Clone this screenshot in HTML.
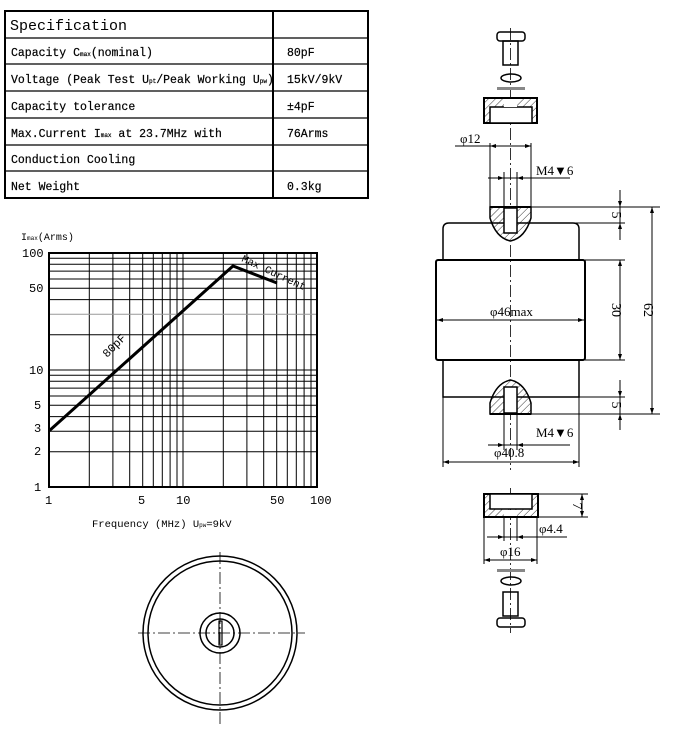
<!DOCTYPE html>
<html><head><meta charset="utf-8"><style>
html,body{margin:0;padding:0;background:#fff;}
svg{display:block;}
text{font-family:"Liberation Mono","Noto Sans CJK SC",monospace;fill:#000;}
.s{font-family:"Liberation Serif","Noto Serif CJK SC",serif;}
</style></head><body>
<svg width="695" height="733" viewBox="0 0 695 733" xmlns="http://www.w3.org/2000/svg">
<defs>
<pattern id="h" width="5" height="5" patternUnits="userSpaceOnUse" patternTransform="rotate(45)">
<line x1="0" y1="0" x2="0" y2="5" stroke="#000" stroke-width="0.8"/>
</pattern>
</defs>
<g stroke="#000" fill="none">
<rect x="5" y="11" width="363" height="187" stroke-width="2"/>
<line x1="273" y1="11" x2="273" y2="198" stroke-width="2"/>
<g stroke-width="1.3">
<line x1="5" y1="38" x2="368" y2="38"/>
<line x1="5" y1="64" x2="368" y2="64"/>
<line x1="5" y1="91" x2="368" y2="91"/>
<line x1="5" y1="118" x2="368" y2="118"/>
<line x1="5" y1="145" x2="368" y2="145"/>
<line x1="5" y1="171" x2="368" y2="171"/>
</g>
</g>
<text x="10" y="30" font-size="15">Specification</text>
<g font-size="11.5" stroke="#000" stroke-width="0.2">
<text x="11" y="56">Capacity C<tspan font-size="6">max</tspan>(nominal)</text>
<text x="11" y="83">Voltage (Peak Test U<tspan font-size="6">pt</tspan>/Peak Working U<tspan font-size="6">pw</tspan>)</text>
<text x="11" y="110">Capacity tolerance</text>
<text x="11" y="137">Max.Current I<tspan font-size="6">max</tspan> at 23.7MHz with</text>
<text x="11" y="163">Conduction Cooling</text>
<text x="11" y="190">Net Weight</text>
<text x="287" y="56">80pF</text>
<text x="287" y="83">15kV/9kV</text>
<text x="287" y="110">±4pF</text>
<text x="287" y="137">76Arms</text>
<text x="287" y="190">0.3kg</text>
</g>
<g stroke="#000" stroke-width="1" fill="none">
<line x1="89.3" y1="253" x2="89.3" y2="487"/><line x1="112.9" y1="253" x2="112.9" y2="487"/>
<line x1="129.7" y1="253" x2="129.7" y2="487"/><line x1="142.7" y1="253" x2="142.7" y2="487"/>
<line x1="153.3" y1="253" x2="153.3" y2="487"/><line x1="162.3" y1="253" x2="162.3" y2="487"/>
<line x1="170.1" y1="253" x2="170.1" y2="487"/><line x1="177" y1="253" x2="177" y2="487"/>
<line x1="183" y1="253" x2="183" y2="487"/>
<line x1="223.3" y1="253" x2="223.3" y2="487"/><line x1="246.9" y1="253" x2="246.9" y2="487"/>
<line x1="263.7" y1="253" x2="263.7" y2="487"/><line x1="276.7" y1="253" x2="276.7" y2="487"/>
<line x1="287.3" y1="253" x2="287.3" y2="487"/><line x1="296.3" y1="253" x2="296.3" y2="487"/>
<line x1="304.1" y1="253" x2="304.1" y2="487"/><line x1="311" y1="253" x2="311" y2="487"/>
<line x1="49" y1="451.8" x2="317" y2="451.8"/><line x1="49" y1="431.2" x2="317" y2="431.2"/>
<line x1="49" y1="416.6" x2="317" y2="416.6"/><line x1="49" y1="405.2" x2="317" y2="405.2"/>
<line x1="49" y1="396" x2="317" y2="396"/><line x1="49" y1="388.1" x2="317" y2="388.1"/>
<line x1="49" y1="381.3" x2="317" y2="381.3"/><line x1="49" y1="375.3" x2="317" y2="375.3"/>
<line x1="49" y1="370" x2="317" y2="370"/>
<line x1="49" y1="334.8" x2="317" y2="334.8"/><line x1="49" y1="314.2" x2="317" y2="314.2" stroke="#999"/>
<line x1="49" y1="299.6" x2="317" y2="299.6"/><line x1="49" y1="288.2" x2="317" y2="288.2"/>
<line x1="49" y1="279" x2="317" y2="279"/><line x1="49" y1="271.1" x2="317" y2="271.1"/>
<line x1="49" y1="264.3" x2="317" y2="264.3"/><line x1="49" y1="258.3" x2="317" y2="258.3"/>
<rect x="49" y="253" width="268" height="234" stroke-width="2"/>
<polyline points="49,431 233,266 277,283" stroke-width="3"/>
</g>
<g font-size="12" font-family="Liberation Sans">
<text x="21" y="240" font-size="10">I<tspan font-size="6">max</tspan>(Arms)</text>
<text x="22" y="257">100</text><text x="29" y="292">50</text>
<text x="29" y="374">10</text><text x="34" y="409">5</text>
<text x="34" y="432">3</text><text x="34" y="455">2</text>
<text x="34" y="491">1</text>
<text x="45" y="504">1</text><text x="138" y="504">5</text><text x="176" y="504">10</text>
<text x="270" y="504">50</text><text x="310" y="504">100</text>
<text x="92" y="527" font-family="Liberation Mono" font-size="10.5">Frequency (MHz) U<tspan font-size="6">pw</tspan>=9kV</text>
<text transform="translate(107,358) rotate(-45)" font-size="11.5">80pF</text>
<text transform="translate(241,261) rotate(25)" font-size="10.5">Max Current</text>
</g>
<g stroke="#000" fill="none" stroke-width="1.5">
<circle cx="220" cy="633" r="77"/><circle cx="220" cy="633" r="72"/>
<circle cx="220" cy="633" r="20"/><circle cx="220" cy="633" r="14"/>
<rect x="219" y="621" width="3" height="24" stroke-width="1.2"/>
<g stroke-width="0.8" stroke-dasharray="12,3,2,3">
<line x1="220" y1="552" x2="220" y2="724"/><line x1="138" y1="633" x2="305" y2="633"/>
</g>
</g>
<g stroke="#000" fill="none" stroke-width="1">
<line x1="510.5" y1="28" x2="510.5" y2="470" stroke-width="0.8" stroke-dasharray="12,3,2,3"/>
<line x1="510.5" y1="488" x2="510.5" y2="633" stroke-width="0.8" stroke-dasharray="12,3,2,3"/>
<rect x="497" y="32" width="28" height="9" rx="3" stroke-width="1.5"/>
<rect x="503" y="41" width="15" height="24" stroke-width="1.5"/>
<ellipse cx="511" cy="78" rx="10" ry="4" stroke-width="1.5"/>
<rect x="497" y="87" width="28" height="3" fill="#888" stroke="none"/>
<rect x="484" y="98" width="53" height="25" fill="url(#h)" stroke-width="2"/>
<rect x="490" y="107" width="42" height="16" fill="#fff" stroke-width="1.5"/>
<rect x="504" y="99" width="13" height="8" fill="#fff" stroke="none"/>
<line x1="490" y1="143" x2="490" y2="207"/><line x1="531" y1="143" x2="531" y2="207"/>
<line x1="455" y1="146" x2="531" y2="146"/>
<line x1="504" y1="172" x2="504" y2="207"/><line x1="517" y1="172" x2="517" y2="207"/>
<line x1="488" y1="178" x2="570" y2="178"/>
<path d="M443,397 L443,229 Q443,223 449,223 L573,223 Q579,223 579,229 L579,397 Z" stroke-width="1.5" fill="#fff"/>
<rect x="436" y="260" width="149" height="100" rx="2" stroke-width="2" fill="#fff"/>
<line x1="510.5" y1="245" x2="510.5" y2="378" stroke-width="0.8" stroke-dasharray="12,3,2,3"/>
<path d="M490,207 L531,207 L531,218 Q525,238 510.5,241 Q496,238 490,218 Z" fill="url(#h)" stroke-width="1.5"/>
<rect x="504" y="208" width="13" height="25" fill="#fff" stroke-width="1.5"/>
<line x1="490" y1="207" x2="531" y2="207" stroke-width="2"/>
<path d="M490,414 L531,414 L531,403 Q525,383 510.5,380 Q496,383 490,403 Z" fill="url(#h)" stroke-width="1.5"/>
<rect x="504" y="387" width="13" height="26" fill="#fff" stroke-width="1.5"/>
<line x1="490" y1="414" x2="531" y2="414" stroke-width="2"/>
<line x1="531" y1="207" x2="660" y2="207"/><line x1="531" y1="414" x2="660" y2="414"/>
<line x1="555" y1="223" x2="625" y2="223"/><line x1="531" y1="397" x2="625" y2="397"/>
<line x1="585" y1="260" x2="625" y2="260"/><line x1="585" y1="360" x2="625" y2="360"/>
<line x1="620" y1="190" x2="620" y2="240"/><line x1="620" y1="260" x2="620" y2="360"/>
<line x1="620" y1="380" x2="620" y2="430"/>
<line x1="652" y1="207" x2="652" y2="414"/>
<line x1="437" y1="320" x2="584" y2="320"/>
<line x1="504" y1="414" x2="504" y2="450"/><line x1="517" y1="414" x2="517" y2="450"/>
<line x1="488" y1="445" x2="570" y2="445"/>
<line x1="443" y1="397" x2="443" y2="467"/><line x1="579" y1="397" x2="579" y2="467"/>
<line x1="443" y1="462" x2="579" y2="462"/>
<rect x="484" y="494" width="54" height="23" fill="url(#h)" stroke-width="2"/>
<rect x="490" y="494" width="42" height="15" fill="#fff" stroke-width="1.5"/>
<rect x="504" y="510" width="13" height="6" fill="#fff" stroke="none"/>
<line x1="538" y1="494" x2="588" y2="494"/><line x1="538" y1="517" x2="588" y2="517"/>
<line x1="582" y1="494" x2="582" y2="517"/>
<line x1="504" y1="517" x2="504" y2="541"/><line x1="517" y1="517" x2="517" y2="541"/>
<line x1="487" y1="537" x2="567" y2="537"/>
<line x1="484" y1="517" x2="484" y2="564"/><line x1="537" y1="517" x2="537" y2="564"/>
<line x1="484" y1="560" x2="537" y2="560"/>
<rect x="497" y="569" width="28" height="3" fill="#888" stroke="none"/>
<ellipse cx="511" cy="581" rx="10" ry="4" stroke-width="1.5"/>
<rect x="503" y="592" width="15" height="24" stroke-width="1.5"/>
<rect x="497" y="618" width="28" height="9" rx="3" stroke-width="1.5"/>
</g>
<g fill="#000">
<path d="M490,146 l6,-2 v4z"/><path d="M531,146 l-6,-2 v4z"/>
<path d="M504,178 l-6,-2 v4z"/><path d="M517,178 l6,-2 v4z"/>
<path d="M437,320 l6,-2 v4z"/><path d="M584,320 l-6,-2 v4z"/>
<path d="M620,260 l-2,6 h4z"/><path d="M620,360 l-2,-6 h4z"/>
<path d="M652,207 l-2,6 h4z"/><path d="M652,414 l-2,-6 h4z"/>
<path d="M620,207 l-2,-6 h4z"/><path d="M620,223 l-2,6 h4z"/>
<path d="M620,397 l-2,-6 h4z"/><path d="M620,414 l-2,6 h4z"/>
<path d="M504,445 l-6,-2 v4z"/><path d="M517,445 l6,-2 v4z"/>
<path d="M443,462 l6,-2 v4z"/><path d="M579,462 l-6,-2 v4z"/>
<path d="M582,494 l-2,6 h4z"/><path d="M582,517 l-2,-6 h4z"/>
<path d="M504,537 l-6,-2 v4z"/><path d="M517,537 l6,-2 v4z"/>
<path d="M484,560 l6,-2 v4z"/><path d="M537,560 l-6,-2 v4z"/>
</g>
<g font-size="13">
<text class="s" x="460" y="143" font-size="13">φ12</text>
<text class="s" x="536" y="175" font-size="13">M4▼6</text>
<text class="s" x="490" y="316" font-size="13">φ46max</text>
<text class="s" x="536" y="437" font-size="13">M4▼6</text>
<text class="s" x="494" y="457" font-size="13">φ40.8</text>
<text class="s" x="539" y="533" font-size="13">φ4.4</text>
<text class="s" x="500" y="556" font-size="13">φ16</text>
<text class="s" font-size="14" transform="translate(612,215) rotate(90)" text-anchor="middle">5</text>
<text class="s" font-size="14" transform="translate(612,405) rotate(90)" text-anchor="middle">5</text>
<text class="s" font-size="14" transform="translate(612,310) rotate(90)" text-anchor="middle">30</text>
<text class="s" font-size="14" transform="translate(644,310) rotate(90)" text-anchor="middle">62</text>
<text class="s" font-size="14" transform="translate(573,506) rotate(90)" text-anchor="middle">7</text>
</g>
</svg>
</body></html>
